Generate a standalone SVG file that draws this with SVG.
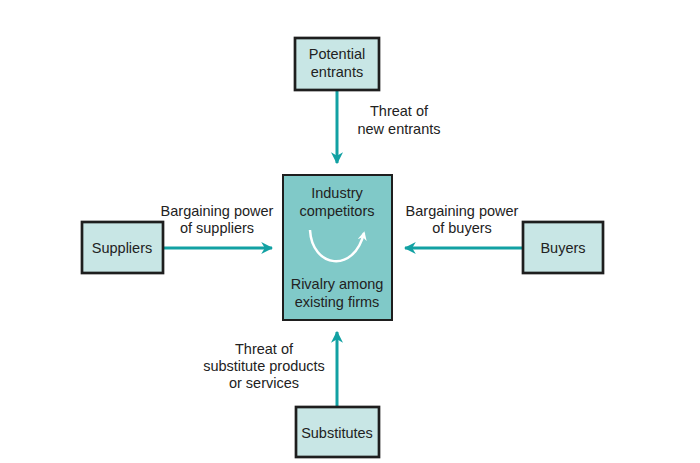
<svg xmlns="http://www.w3.org/2000/svg" width="700" height="463" viewBox="0 0 700 463">
<defs>
<marker id="ah" viewBox="0 0 10 10" refX="9" refY="5" markerWidth="12" markerHeight="12" markerUnits="userSpaceOnUse" orient="auto">
<path d="M0,0 L10,5 L0,10 L3,5 Z" fill="#12a1a3"/>
</marker>
<marker id="wh" viewBox="0 0 10 10" refX="8" refY="5" markerWidth="9" markerHeight="9" markerUnits="userSpaceOnUse" orient="auto">
<path d="M0,0 L10,5 L0,10 L3,5 Z" fill="#ffffff"/>
</marker>
<style>
.box{fill:#c8e6e5;stroke:#1e1e1e;stroke-width:2.7}
.core{fill:#80c9c8;stroke:#1e1e1e;stroke-width:2}
.t{font-family:"Liberation Sans",Arial,sans-serif;font-size:14.5px;fill:#222;text-anchor:middle}
.c{stroke:#12a1a3;stroke-width:3;fill:none;marker-end:url(#ah)}
</style>
</defs>
<rect width="700" height="463" fill="#fff"/>
<g id="connectors">
<line class="c" x1="337" y1="91" x2="337" y2="163"/>
<line class="c" x1="164" y1="248" x2="272" y2="248"/>
<line class="c" x1="522" y1="248" x2="405" y2="248"/>
<line class="c" x1="337" y1="406" x2="337" y2="332"/>
<text class="t" x="399" y="116">Threat of</text>
<text class="t" x="399" y="134">new entrants</text>
<text class="t" x="217" y="216">Bargaining power</text>
<text class="t" x="217" y="233">of suppliers</text>
<text class="t" x="462" y="216">Bargaining power</text>
<text class="t" x="462" y="233">of buyers</text>
<text class="t" x="264" y="354">Threat of</text>
<text class="t" x="264" y="371">substitute products</text>
<text class="t" x="264" y="388">or services</text>
</g>
<g id="potential-entrants">
<rect class="box" x="295" y="38" width="84" height="52"/>
<text class="t" x="337" y="59">Potential</text>
<text class="t" x="337" y="77">entrants</text>
</g>
<g id="industry-competitors">
<rect class="core" x="283" y="175" width="109" height="145"/>
<text class="t" x="337" y="198">Industry</text>
<text class="t" x="337" y="216">competitors</text>
<path d="M310,230 C312,268 354,274 364,233" stroke="#fff" stroke-width="2.5" fill="none" marker-end="url(#wh)"/>
<text class="t" x="337" y="289">Rivalry among</text>
<text class="t" x="337" y="307">existing firms</text>
</g>
<g id="suppliers">
<rect class="box" x="82" y="222" width="81" height="51"/>
<text class="t" x="122" y="253">Suppliers</text>
</g>
<g id="buyers">
<rect class="box" x="523" y="222" width="80" height="51"/>
<text class="t" x="563" y="253">Buyers</text>
</g>
<g id="substitutes">
<rect class="box" x="296" y="407" width="83" height="50"/>
<text class="t" x="337" y="438">Substitutes</text>
</g>
</svg>
